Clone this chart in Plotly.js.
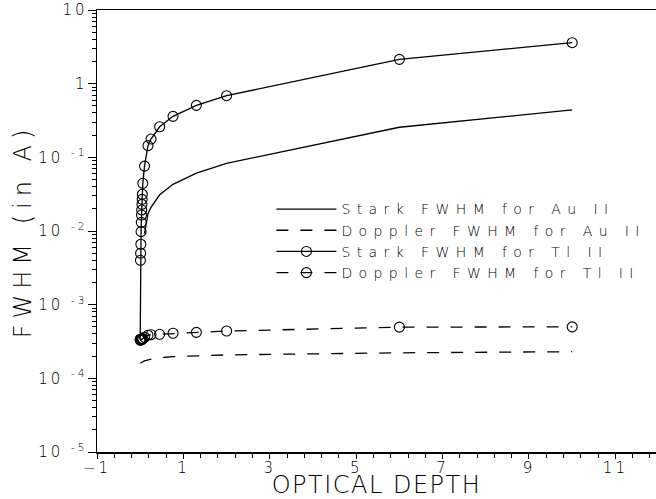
<!DOCTYPE html>
<html><head><meta charset="utf-8">
<script src="https://cdn.plot.ly/plotly-3.0.1.min.js"></script>
<style>
html,body{margin:0;padding:0;background:#fff;}
#chart{width:656px;height:499px;}
.legendtext{letter-spacing:6.4px;}
.g-xtitle text{letter-spacing:1.5px;}
.g-ytitle text{letter-spacing:6px;}
.xtick text,.ytick text{letter-spacing:3px;}
</style></head><body><div id="chart"></div>
<script>
// Optical depth values (x)
const tauTl = [0, 0.005, 0.01, 0.015, 0.02, 0.025, 0.03, 0.035, 0.04, 0.045, 0.05, 0.06, 0.1, 0.18, 0.25, 0.45, 0.76, 1.3, 2.0, 6.0, 10.0];
const starkTl = [3.4e-4, 0.0040, 0.0050, 0.0066, 0.0098, 0.0131, 0.0165, 0.0193, 0.0230, 0.0269, 0.0315, 0.0444, 0.076, 0.144, 0.177, 0.26, 0.36, 0.508, 0.687, 2.14, 3.6];
const dopplerTl = [3.30e-4, 3.31e-4, 3.33e-4, 3.34e-4, 3.35e-4, 3.36e-4, 3.37e-4, 3.38e-4, 3.39e-4, 3.40e-4, 3.42e-4, 3.46e-4, 3.61e-4, 3.85e-4, 3.91e-4, 3.96e-4, 4.09e-4, 4.21e-4, 4.39e-4, 4.95e-4, 5.0e-4];

const tauStarkAu = [0.1, 0.18, 0.25, 0.45, 0.76, 1.3, 2.0, 6.0, 10.0];
const starkAu = [0.0092, 0.0172, 0.021, 0.031, 0.043, 0.061, 0.083, 0.256, 0.44];

const tauDopplerAu = [0, 0.1, 0.25, 0.45, 0.76, 1.3, 2.0, 6.0, 10.0];
const dopplerAu = [1.60e-4, 1.72e-4, 1.82e-4, 1.90e-4, 1.97e-4, 2.02e-4, 2.08e-4, 2.22e-4, 2.30e-4];

const seriesNames = ['Stark FWHM for Au II', 'Doppler FWHM for Au II', 'Stark FWHM for Tl II', 'Doppler FWHM for Tl II'];

const xTickVals = [-1, 1, 3, 5, 7, 9, 11];
const xTickText = ['\u22121', '1', '3', '5', '7', '9', '11'];
const yTickVals = [1e-5, 1e-4, 1e-3, 1e-2, 1e-1, 1, 10];
const yTickText = ['10 <sup>-5</sup>', '10 <sup>-4</sup>', '10 <sup>-3</sup>', '10 <sup>-2</sup>', '10 <sup>-1</sup>', '1', '10'];

// minor tick positions (axis furniture, not data)
const xMinor = [];
for (let i = 0; i <= 33; i++) xMinor.push(-1 + i * 0.4);
const yMinor = [];
for (let e = -5; e < 1; e++) for (let m = 2; m <= 9; m++) yMinor.push(m * Math.pow(10, e));

const FONT = 'DejaVu Sans, Liberation Sans, sans-serif';
const ink = '#000';

const traces = [
  {x: tauStarkAu, y: starkAu, name: seriesNames[0], mode: 'lines',
   line: {color: ink, width: 1.3}},
  {x: tauDopplerAu, y: dopplerAu, name: seriesNames[1], mode: 'lines',
   line: {color: ink, width: 1.3, dash: '12px,12px'}},
  {x: tauTl, y: starkTl, name: seriesNames[2], mode: 'lines+markers',
   line: {color: ink, width: 1.3},
   marker: {symbol: 'circle-open', size: 10, color: ink, line: {width: 1.1, color: ink}}},
  {x: tauTl, y: dopplerTl, name: seriesNames[3], mode: 'lines+markers',
   line: {color: ink, width: 1.3, dash: '12px,12px'},
   marker: {symbol: 'circle-open', size: 10, color: ink, line: {width: 1.1, color: ink}}}
];

const layout = {
  width: 656, height: 499,
  margin: {l: 97, r: 0, t: 10, b: 47},
  paper_bgcolor: '#fff', plot_bgcolor: '#fff',
  font: {family: FONT, color: ink, size: 15, weight: 300},
  showlegend: true,
  legend: {x: 0.312, y: 0.585, xanchor: 'left', yanchor: 'top', bgcolor: 'rgba(0,0,0,0)',
           font: {family: FONT, size: 14, color: ink, weight: 300}, itemwidth: 60, tracegroupgap: 0},
  xaxis: {
    range: [-1, 11.94], tickmode: 'array', tickvals: xTickVals, ticktext: xTickText,
    ticks: 'outside', ticklen: 5, tickwidth: 1, tickcolor: ink, ticklabelstandoff: -4,
    showline: true, linecolor: ink, linewidth: 1.5, mirror: true,
    showgrid: false, zeroline: false, automargin: false,
    tickfont: {family: FONT, size: 15, color: ink, weight: 300},
    minor: {tickmode: 'array', tickvals: xMinor, ticks: 'outside', ticklen: 4, tickwidth: 1, tickcolor: ink, showgrid: false},
    title: {text: 'OPTICAL DEPTH', font: {family: FONT, size: 24, color: ink, weight: 300}, standoff: 8}
  },
  yaxis: {
    type: 'log', range: [-5, 1], tickmode: 'array', tickvals: yTickVals, ticktext: yTickText,
    ticks: 'outside', ticklen: 8, tickwidth: 1, tickcolor: ink, ticklabelstandoff: -3,
    showline: true, linecolor: ink, linewidth: 1.5,
    showgrid: false, zeroline: false, automargin: false,
    tickfont: {family: FONT, size: 15, color: ink, weight: 300},
    minor: {tickmode: 'array', tickvals: yMinor, ticks: 'outside', ticklen: 4, tickwidth: 1, tickcolor: ink, showgrid: false},
    title: {text: 'FWHM (in A)', font: {family: FONT, size: 24, color: ink, weight: 300}, standoff: 0}
  }
};

Plotly.newPlot('chart', traces, layout, {displayModeBar: false, staticPlot: true});
</script>
</body></html>
